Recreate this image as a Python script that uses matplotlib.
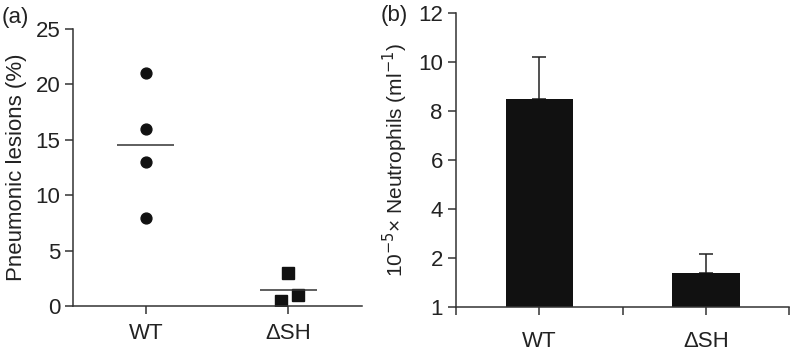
import matplotlib.pyplot as plt

plt.rcParams['font.family'] = ['Liberation Sans', 'DejaVu Sans']

# panel (a): lesiones por animal
grupos = ["WT", "\u0394SH"]
wt_lesiones = [21, 16, 13, 8]
sh_lesiones = [3, 1, 0.5]
sh_desvio_x = [0.0, 0.066, -0.053]

# panel (b): neutrofilos
neutro_media = [8.5, 1.4]
neutro_error = [1.7, 0.75]
neutro_ticks = [0, 2, 4, 6, 8, 10, 12]
neutro_labels = ["1", "2", "4", "6", "8", "10", "12"]

gris = "#222222"
fs = 16
fig = plt.figure(figsize=(7.92, 3.51), dpi=100)

ax1 = fig.add_axes([0.0926, 0.1274, 0.364, 0.790])
ax1.plot([0] * len(wt_lesiones), wt_lesiones, "o", color="#111111", markersize=7.8)
ax1.plot([1 + d for d in sh_desvio_x], sh_lesiones, "s", color="#111111", markersize=8)
media_wt = sum(wt_lesiones) / len(wt_lesiones)
media_sh = sum(sh_lesiones) / len(sh_lesiones)
ax1.hlines([media_wt, media_sh], [-0.2, 0.8], [0.2, 1.2], color="#333333", lw=1.1)
ax1.set_xlim(-0.508, 1.515)
ax1.set_ylim(0, 25)
ax1.set_xticks([0, 1])
ax1.set_xticklabels(grupos)
ax1.set_yticks([0, 5, 10, 15, 20, 25])
ax1.set_ylabel("Pneumonic lesions (%)", fontsize=16, color=gris, labelpad=6)

ax2 = fig.add_axes([0.5758, 0.1254, 0.4208, 0.8384])
ax2.bar([0, 1], neutro_media, width=0.405, color="#111111", zorder=2)
ax2.errorbar([0, 1], neutro_media, yerr=[[0, 0], neutro_error], fmt="none",
             ecolor="#222222", elinewidth=1.1, capsize=5, capthick=1.1, zorder=1)
ax2.set_xlim(-0.5, 1.5)
ax2.set_ylim(0, 12)
ax2.set_xticks([-0.5, 0.5, 1.5])
ax2.set_xticklabels([])
ax2.set_xticks([0, 1], minor=True)
ax2.set_xticklabels(grupos, minor=True)
ax2.tick_params(axis="x", which="minor", length=0, pad=11)
ax2.set_yticks(neutro_ticks)
ax2.set_yticklabels(neutro_labels)
ax2.set_ylabel("10$^{\u22125}$\u00d7 Neutrophils (ml$^{\u22121}$)", fontsize=15, color=gris, labelpad=6)

for ax in (ax1, ax2):
    for s in ("top", "right"):
        ax.spines[s].set_visible(False)
    for s in ("left", "bottom"):
        ax.spines[s].set_color("#333333")
        ax.spines[s].set_linewidth(1.1)
    ax.tick_params(which="both", labelsize=fs, labelcolor=gris, color="#333333", length=6, width=1.1)
ax1.tick_params(axis="x", pad=6)

fig.text(0.002, 0.935, "(a)", fontsize=fs, color=gris)
fig.text(0.481, 0.94, "(b)", fontsize=fs, color=gris)

fig.savefig("out.png", dpi=100)
